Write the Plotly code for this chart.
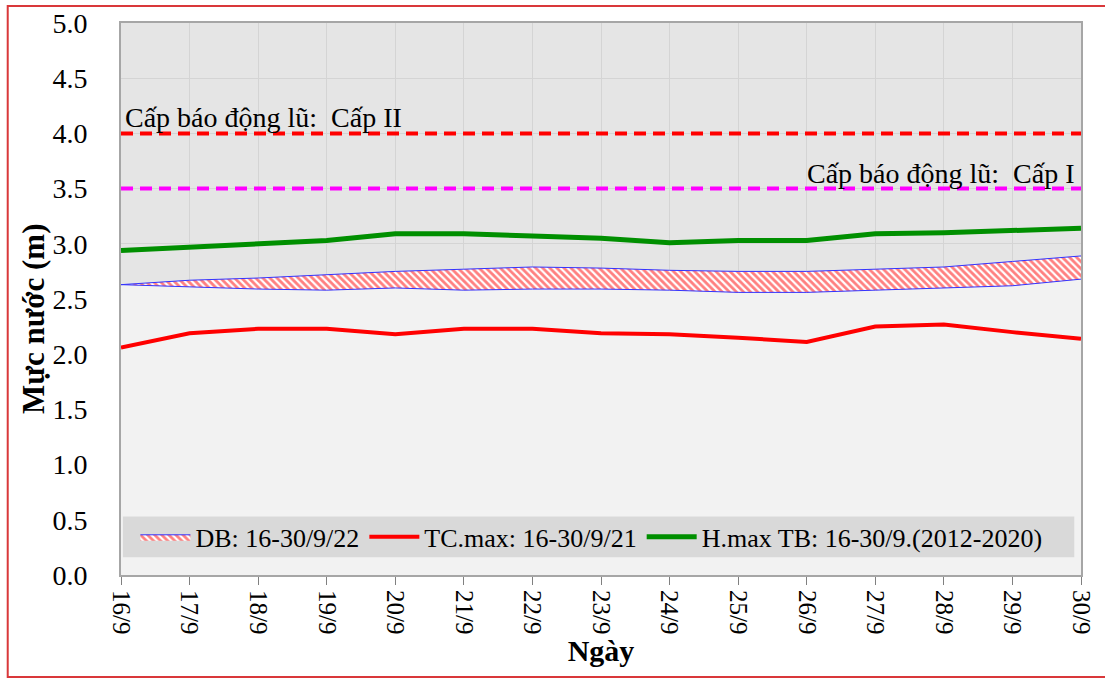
import plotly.graph_objects as go

# data
days = ['16/9', '17/9', '18/9', '19/9', '20/9', '21/9', '22/9', '23/9',
        '24/9', '25/9', '26/9', '27/9', '28/9', '29/9', '30/9']
db_low = [2.63, 2.61, 2.59, 2.58, 2.60, 2.58, 2.59, 2.59,
          2.58, 2.56, 2.56, 2.58, 2.60, 2.62, 2.68]
db_high = [2.63, 2.67, 2.69, 2.72, 2.75, 2.77, 2.79, 2.78,
           2.76, 2.75, 2.75, 2.77, 2.79, 2.84, 2.89]
tc_max = [2.06, 2.19, 2.23, 2.23, 2.18, 2.23, 2.23, 2.19,
          2.18, 2.15, 2.11, 2.25, 2.27, 2.20, 2.14]
hmax_tb = [2.94, 2.97, 2.99, 3.03, 3.09, 3.09, 3.07, 3.05,
           3.01, 3.03, 3.03, 3.09, 3.10, 3.12, 3.14]
alarm_2 = 4.0
alarm_1 = 3.5
alarm_2_label = 'Cấp báo động lũ:  Cấp II'
alarm_1_label = 'Cấp báo động lũ:  Cấp I'

FONT = 'Liberation Serif, Times New Roman, serif'

fig = go.Figure()

# bottom part of the stacked band (plain fill hides the grid)
fig.add_trace(go.Scatter(
    x=days, y=db_low, mode='lines', fill='tozeroy', fillcolor='#f2f2f2',
    line=dict(color='#3333ff', width=1), showlegend=False, hoverinfo='skip'
))
# hatched band
fig.add_trace(go.Scatter(
    x=days, y=db_high, mode='lines', fill='tonexty', name='DB: 16-30/9/22',
    fillcolor='white',
    fillpattern=dict(shape='\\', fgcolor='#ff0000', bgcolor='white', size=5, solidity=0.55),
    line=dict(color='#3333ff', width=1)
))
fig.add_trace(go.Scatter(
    x=days, y=tc_max, mode='lines', name='TC.max: 16-30/9/21',
    line=dict(color='#ff0000', width=4)
))
fig.add_trace(go.Scatter(
    x=days, y=hmax_tb, mode='lines', name='H.max TB: 16-30/9.(2012-2020)',
    line=dict(color='#008f00', width=5)
))
# alert levels
fig.add_trace(go.Scatter(
    x=days, y=[alarm_2] * len(days), mode='lines', showlegend=False,
    line=dict(color='#ff0000', width=4, dash='12px,7px')
))
fig.add_trace(go.Scatter(
    x=days, y=[alarm_1] * len(days), mode='lines', showlegend=False,
    line=dict(color='#ff00ff', width=4, dash='12px,7px')
))

fig.add_annotation(x=days[0], y=alarm_2, text=alarm_2_label, showarrow=False,
                   xanchor='left', yanchor='bottom', xshift=2, yshift=-2,
                   font=dict(family=FONT, size=28, color='black'))
fig.add_annotation(x=days[-1], y=alarm_1, text=alarm_1_label, showarrow=False,
                   xanchor='right', yanchor='bottom', xshift=-4, yshift=-2,
                   font=dict(family=FONT, size=28, color='black'))
# y axis title (sits a bit below the plot centre in the original)
fig.add_annotation(xref='paper', yref='paper', x=-0.0906, y=0.464,
                   text='<b>Mực nước (m)</b>', textangle=-90, showarrow=False,
                   xanchor='center', yanchor='middle',
                   font=dict(family=FONT, size=31, color='black'))

# grey strip behind the legend
fig.add_shape(type='rect', xref='paper', yref='paper', x0=0.002, x1=0.993,
              y0=0.032, y1=0.106, fillcolor='#d9d9d9', line=dict(width=0),
              layer='above')
# outer red frame
fig.add_shape(type='rect', xref='paper', yref='paper', x0=-0.118, x1=1.05,
              y0=-0.185, y1=1.031, fillcolor='rgba(0,0,0,0)',
              line=dict(color='#d9383a', width=2))

fig.update_layout(
    width=1105, height=678,
    margin=dict(l=121, r=24, t=23, b=103, autoexpand=False),
    paper_bgcolor='white',
    plot_bgcolor='#e5e5e5',
    font=dict(family=FONT, size=26, color='black'),
    showlegend=True,
    legend=dict(orientation='h', x=0.015, y=0.069, xanchor='left', yanchor='middle',
                bgcolor='rgba(0,0,0,0)', font=dict(family=FONT, size=26),
                traceorder='normal', itemwidth=50, tracegroupgap=0),
)
fig.update_xaxes(
    type='category', range=[0, len(days) - 1], automargin=False,
    showgrid=True, gridcolor='#d4d4d4', gridwidth=1,
    showline=True, linecolor='#a6a6a6', linewidth=2, mirror=True,
    ticks='outside', ticklen=8, tickcolor='#808080', tickangle=90,
    tickfont=dict(family=FONT, size=25),
    title=dict(text='<b>Ngày</b>', font=dict(family=FONT, size=30), standoff=6),
    zeroline=False,
)
fig.update_yaxes(
    range=[0, 5], dtick=0.5, tickformat='.1f', automargin=False,
    showgrid=True, gridcolor='#d4d4d4', gridwidth=1,
    showline=True, linecolor='#a6a6a6', linewidth=2, mirror=True,
    ticks='', ticklabelstandoff=26,
    tickfont=dict(family=FONT, size=28),
    zeroline=False,
)

# drop the browser's default 8px body margin so the figure sits at the page corner
fig.write_html('out.html', config={'displayModeBar': False},
               post_script="document.body.style.margin='0px';")
